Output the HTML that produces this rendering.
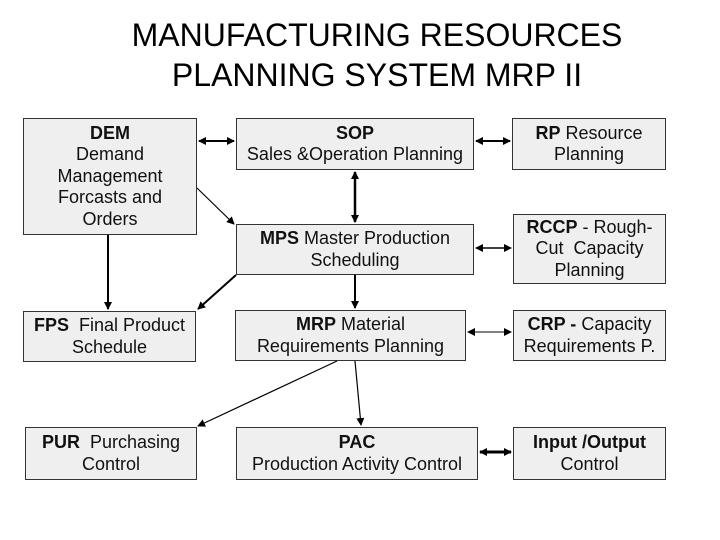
<!DOCTYPE html>
<html><head><style>
body{margin:0;width:720px;height:540px;background:#fff;position:relative;font-family:"Liberation Sans",Arial,sans-serif;overflow:hidden}
.t{position:absolute;left:0;width:754px;text-align:center;font-size:32px;line-height:40px;top:15px;color:#000}
.b{position:absolute;background:#efefef;border:1.5px solid #333;box-sizing:border-box;display:flex;align-items:center;justify-content:center;text-align:center;font-size:18px;line-height:21.5px;color:#111;white-space:nowrap}
b{font-weight:bold}
svg{position:absolute;left:0;top:0}
</style></head><body>
<div class="t">MANUFACTURING RESOURCES<br>PLANNING SYSTEM MRP II</div>
<div class="b" style="left:23px;top:118px;width:174px;height:117px"><div><b>DEM</b><br>Demand<br>Management<br>Forcasts and<br>Orders</div></div>
<div class="b" style="left:236px;top:118px;width:238px;height:52px"><div><b>SOP</b><br>Sales &amp;Operation Planning</div></div>
<div class="b" style="left:512px;top:118px;width:154px;height:52px"><div><b>RP</b> Resource<br>Planning</div></div>
<div class="b" style="left:236px;top:224px;width:238px;height:51px"><div><b>MPS</b> Master Production<br>Scheduling</div></div>
<div class="b" style="left:513px;top:214px;width:153px;height:70px"><div><b>RCCP</b> - Rough-<br>Cut &nbsp;Capacity<br>Planning</div></div>
<div class="b" style="left:23px;top:311px;width:173px;height:51px"><div><b>FPS</b> &nbsp;Final Product<br>Schedule</div></div>
<div class="b" style="left:235px;top:310px;width:231px;height:51px"><div><b>MRP</b> Material<br>Requirements Planning</div></div>
<div class="b" style="left:513px;top:310px;width:153px;height:51px"><div><b>CRP -</b> Capacity<br>Requirements P.</div></div>
<div class="b" style="left:25px;top:427px;width:172px;height:53px"><div><b>PUR</b> &nbsp;Purchasing<br>Control</div></div>
<div class="b" style="left:236px;top:427px;width:242px;height:53px"><div><b>PAC</b><br>Production Activity Control</div></div>
<div class="b" style="left:513px;top:427px;width:153px;height:53px"><div><b>Input /Output</b><br>Control</div></div>
<svg width="720" height="540">
<defs><marker id="a" markerWidth="8" markerHeight="8" refX="7" refY="4" orient="auto-start-reverse" markerUnits="userSpaceOnUse"><path d="M0,0L8,4L0,8z" fill="#000"/></marker></defs>
<g stroke="#000" fill="none">
<line x1="199" y1="141" x2="234" y2="141" stroke-width="2" marker-start="url(#a)" marker-end="url(#a)"/>
<line x1="476" y1="141" x2="510" y2="141" stroke-width="2" marker-start="url(#a)" marker-end="url(#a)"/>
<line x1="355" y1="172" x2="355" y2="222" stroke-width="2.5" marker-start="url(#a)" marker-end="url(#a)"/>
<line x1="197" y1="188" x2="234" y2="224" stroke-width="1.2" marker-end="url(#a)"/>
<line x1="476" y1="248" x2="511" y2="248" stroke-width="1.5" marker-start="url(#a)" marker-end="url(#a)"/>
<line x1="108" y1="235" x2="108" y2="309" stroke-width="2" marker-end="url(#a)"/>
<line x1="236" y1="275" x2="198" y2="309" stroke-width="2" marker-end="url(#a)"/>
<line x1="355" y1="275" x2="355" y2="308" stroke-width="2" marker-end="url(#a)"/>
<line x1="468" y1="332" x2="511" y2="332" stroke-width="1" marker-start="url(#a)" marker-end="url(#a)"/>
<line x1="337" y1="361" x2="198" y2="426" stroke-width="1.2" marker-end="url(#a)"/>
<line x1="355" y1="361" x2="361" y2="425" stroke-width="1.2" marker-end="url(#a)"/>
<line x1="480" y1="452" x2="511" y2="452" stroke-width="3" marker-start="url(#a)" marker-end="url(#a)"/>
</g></svg>
</body></html>
